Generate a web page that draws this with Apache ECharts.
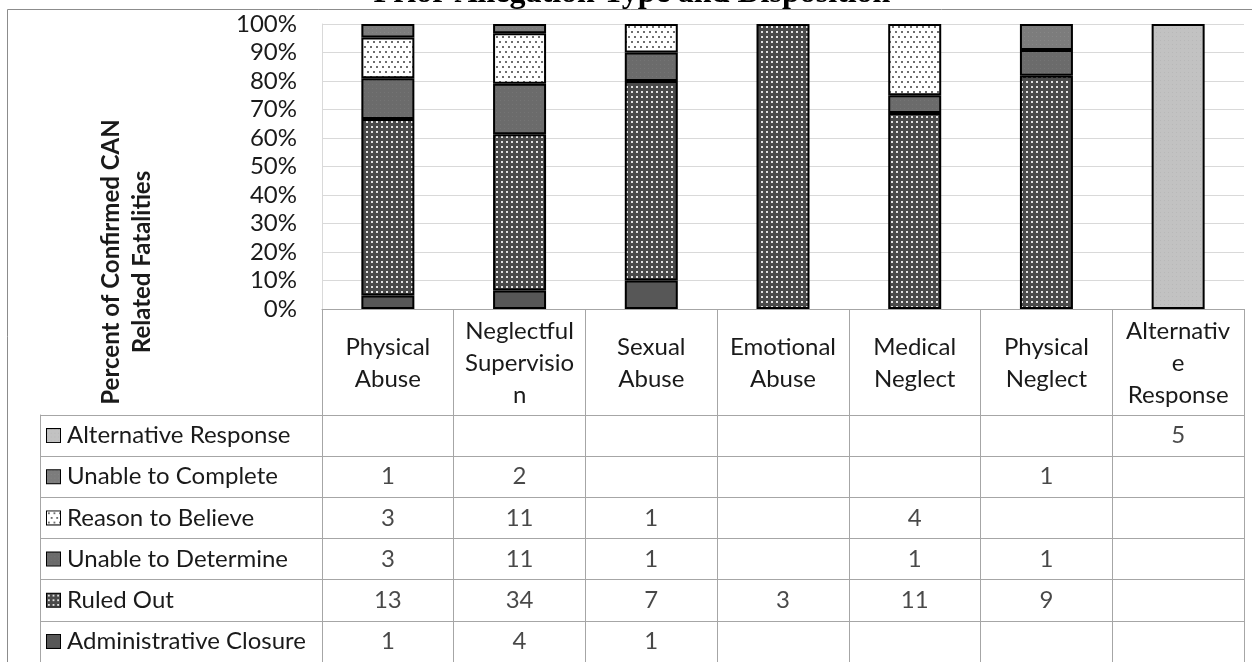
<!DOCTYPE html>
<html>
<head>
<meta charset="utf-8">
<script src="https://cdn.jsdelivr.net/npm/echarts@6/dist/echarts.min.js"></script>
<style>
html,body{margin:0;padding:0;background:#fff;}
#main{width:1252px;height:662px;}
</style>
</head>
<body>
<div id="main"></div>
<script>
// ---- data ----
const categories = ['Physical Abuse','Neglectful Supervision','Sexual Abuse','Emotional Abuse','Medical Neglect','Physical Neglect','Alternative Response'];
const headerLabels = ['Physical\nAbuse','Neglectful\nSupervisio\nn','Sexual\nAbuse','Emotional\nAbuse','Medical\nNeglect','Physical\nNeglect','Alternativ\ne\nResponse'];
const seriesNames = ['Administrative Closure','Ruled Out','Unable to Determine','Reason to Believe','Unable to Complete','Alternative Response'];
const administrativeClosure = [1,4,1,0,0,0,0];
const ruledOut = [13,34,7,3,11,9,0];
const unableToDetermine = [3,11,1,0,1,1,0];
const reasonToBelieve = [3,11,1,0,4,0,0];
const unableToComplete = [1,2,0,0,0,1,0];
const alternativeResponse = [0,0,0,0,0,0,5];
const titleText = 'Prior Allegation Type and Disposition';
const yAxisTitle = 'Percent of Confirmed CAN\nRelated Fatalities';

const counts = [administrativeClosure, ruledOut, unableToDetermine, reasonToBelieve, unableToComplete, alternativeResponse];
const totals = categories.map((_, c) => counts.reduce((s, arr) => s + arr[c], 0));

// ---- fills ----
function tile(w, h, bg, dots, dotColor, ds) {
  const cv = document.createElement('canvas');
  cv.width = w; cv.height = h;
  const g = cv.getContext('2d');
  g.fillStyle = bg; g.fillRect(0, 0, w, h);
  g.fillStyle = dotColor;
  dots.forEach(([x, y]) => g.fillRect(x, y, ds, ds));
  return cv;
}
const tiles = [
  tile(4, 4, '#575757', [], '#575757', 1),
  tile(5, 5, '#4a4a4a', [[1, 1]], '#e2e2e2', 2),
  tile(4, 4, '#6b6b6b', [[0, 0]], '#747474', 1),
  tile(6, 10, '#ffffff', [[1, 1], [4, 6]], '#6e6e6e', 2),
  tile(4, 4, '#7c7c7c', [[0, 0]], '#868686', 1),
  tile(4, 4, '#c2c2c2', [[0, 0]], '#b8b8b8', 1)
];
function keyCanvas(t) {
  const cv = document.createElement('canvas');
  cv.width = 14; cv.height = 14;
  const g = cv.getContext('2d');
  g.fillStyle = g.createPattern(t, 'repeat');
  g.fillRect(0, 0, 14, 14);
  return cv;
}
const keys = tiles.map(keyCanvas);

const FONT = 'Lato, "Open Sans", sans-serif';
const FS = 24;

// table rows, top to bottom
const tableRows = seriesNames.slice().reverse();
const rich = { t: { padding: [0, 0, 0, 7] } };
tableRows.forEach((n, i) => {
  const si = seriesNames.indexOf(n);
  rich['k' + i] = {
    width: 13, height: 13,
    backgroundColor: { image: keys[si] },
    borderColor: '#000', borderWidth: 2
  };
});

const tableData = [];
seriesNames.forEach((n, si) => {
  counts[si].forEach((v, c) => { if (v > 0) tableData.push([categories[c], n, v]); });
});

const barSeries = seriesNames.map((n, si) => ({
  name: n,
  type: 'bar',
  stack: 'total',
  xAxisIndex: 0, yAxisIndex: 0,
  barWidth: 53,
  data: counts[si].map((v, c) => v > 0 ? v / totals[c] : null),
  itemStyle: {
    color: { image: tiles[si], repeat: 'repeat' },
    borderColor: '#000', borderWidth: 2
  }
}));

const chart = echarts.init(document.getElementById('main'));
chart.setOption({
  animation: false,
  backgroundColor: '#fff',
  grid: [
    { left: 322, top: 24, width: 922, height: 285 },
    { left: 322, top: 415, width: 922, height: 250 }
  ],
  xAxis: [
    {
      gridIndex: 0, type: 'category', data: categories,
      axisLine: { show: true, lineStyle: { color: '#a6a6a6', width: 1 } },
      axisTick: { show: true, length: 106, interval: 0, lineStyle: { color: '#a6a6a6' } },
      axisLabel: {
        interval: 0, margin: 54, verticalAlign: 'middle',
        formatter: (v, i) => headerLabels[i],
        fontFamily: FONT, fontSize: FS, lineHeight: 32, color: '#1a1a1a'
      },
      splitLine: { show: false }
    },
    {
      gridIndex: 1, type: 'category', data: categories, position: 'top',
      axisLine: { show: true, lineStyle: { color: '#a6a6a6' } },
      axisTick: { show: false },
      axisLabel: { show: false },
      splitLine: { show: true, interval: 0, lineStyle: { color: '#a6a6a6' } }
    }
  ],
  yAxis: [
    {
      gridIndex: 0, type: 'value', min: 0, max: 1, interval: 0.1,
      axisLine: { show: true, lineStyle: { color: '#d9d9d9' } },
      axisTick: { show: false },
      axisLabel: {
        margin: 25, fontFamily: FONT, fontSize: FS, color: '#1a1a1a',
        formatter: v => Math.round(v * 100) + '%'
      },
      splitLine: { show: true, lineStyle: { color: '#d9d9d9' } }
    },
    {
      gridIndex: 1, type: 'category', data: tableRows, inverse: true,
      axisLine: { show: false },
      axisTick: { show: true, length: 282, interval: 0, lineStyle: { color: '#a6a6a6' } },
      axisLabel: {
        interval: 0, align: 'left', margin: 275,
        fontFamily: FONT, fontSize: FS, color: '#1a1a1a',
        formatter: (v, i) => '{k' + i + '|}{t|' + v + '}',
        rich: rich
      },
      splitLine: { show: true, interval: 0, lineStyle: { color: '#a6a6a6' } }
    },
    {
      gridIndex: 1, type: 'value', min: 0, max: 1, offset: 282, position: 'left',
      axisLine: { show: true, lineStyle: { color: '#a6a6a6' } },
      axisTick: { show: false }, axisLabel: { show: false }, splitLine: { show: false }
    }
  ],
  series: barSeries.concat([{
    type: 'scatter',
    xAxisIndex: 1, yAxisIndex: 1,
    symbolSize: 1,
    itemStyle: { color: 'rgba(0,0,0,0)' },
    data: tableData,
    label: {
      show: true, position: 'inside',
      formatter: p => String(p.value[2]),
      fontFamily: FONT, fontSize: FS, color: '#1a1a1a'
    }
  }]),
  graphic: [
    {
      type: 'rect', silent: true,
      shape: { x: 7.5, y: 9.5, width: 1400, height: 800 },
      style: { fill: null, stroke: '#8c8c8c', lineWidth: 1 }
    },
    {
      type: 'text', silent: true, x: 632, y: -6,
      style: {
        text: titleText, align: 'center', verticalAlign: 'middle',
        font: 'bold 32px "Liberation Serif", serif', fill: '#000'
      }
    },
    {
      type: 'text', silent: true, x: 127, y: 262, rotation: Math.PI / 2,
      style: {
        text: yAxisTitle, align: 'center', verticalAlign: 'middle',
        font: 'bold 24px ' + FONT, lineHeight: 31, fill: '#1a1a1a'
      }
    }
  ]
});
</script>
</body>
</html>
